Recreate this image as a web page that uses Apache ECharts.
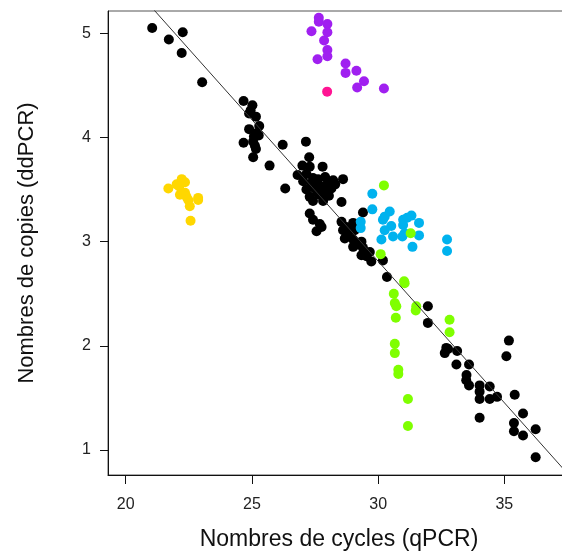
<!DOCTYPE html>
<html><head><meta charset="utf-8">
<script src="https://cdn.jsdelivr.net/npm/echarts@6/dist/echarts.min.js"></script>
<style>html,body{margin:0;padding:0;background:#fff}#c{width:562px;height:553px}</style>
</head><body><div id="c"></div>
<script>
const xTicks = [20, 25, 30, 35];
const yTicks = [1, 2, 3, 4, 5];
const xTitle = 'Nombres de cycles (qPCR)';
const yTitle = 'Nombres de copies (ddPCR)';
const fitIntercept = 10.963;
const fitSlope = -0.2717;

const blackPts = [
[21.05,5.05],[21.71,4.94],[22.26,5.01],[22.22,4.81],[23.03,4.53],
[24.67,4.35],[25.02,4.31],[24.95,4.26],[24.89,4.23],[25.16,4.20],[25.29,4.11],[24.89,4.08],[25.18,4.04],[25.27,4.02],[25.08,4.01],[24.67,3.95],[25.05,3.96],[25.12,3.92],[25.16,3.89],[25.05,3.81],[25.70,3.73],[26.22,3.93],
[27.00,3.73],[26.81,3.64],[26.32,3.51],[27.14,3.96],[27.27,3.81],[27.29,3.72],[27.80,3.72],[27.16,3.65],[27.42,3.61],[27.03,3.58],[27.62,3.60],[28.02,3.58],[28.22,3.59],[28.61,3.60],[27.16,3.50],[27.49,3.51],[27.82,3.53],[28.15,3.51],[27.29,3.43],[27.69,3.45],[27.95,3.46],[27.42,3.39],[27.82,3.39],[28.55,3.38],
[27.50,3.55],[27.90,3.62],[27.35,3.56],[28.05,3.44],[27.60,3.47],[28.30,3.55],
[27.29,3.27],[27.42,3.21],[27.69,3.17],[27.56,3.10],[27.76,3.14],[29.40,3.28],[28.55,3.19],[29.01,3.18],[28.74,3.14],[28.61,3.11],[28.81,3.08],[29.07,3.11],[28.68,3.03],[29.01,3.02],[29.34,3.00],[29.01,2.95],[29.14,2.97],[29.40,2.94],[29.67,2.90],[29.34,2.87],[29.54,2.86],[29.73,2.81],[30.19,2.82],[30.35,2.66],
[31.97,2.38],[31.97,2.22],[32.70,1.98],[32.64,1.93],[32.77,1.97],[33.13,1.95],[33.10,1.82],[33.60,1.82],[33.50,1.72],[33.49,1.67],[33.60,1.62],[34.02,1.62],[34.02,1.56],[34.02,1.49],[34.42,1.61],[34.42,1.49],[34.71,1.51],[34.02,1.31],[35.18,2.05],[35.08,1.90],[35.41,1.53],[35.74,1.35],[35.38,1.26],[35.38,1.18],[35.74,1.14],[36.24,1.20],[36.24,0.93]
];
const yellowPts = [
[21.69,3.51],[22.02,3.55],[22.22,3.60],[22.35,3.57],[22.12,3.53],[22.15,3.45],[22.35,3.47],[22.41,3.43],[22.48,3.40],[22.54,3.34],[22.87,3.42],[22.87,3.40],[22.57,3.20]
];
const purplePts = [
[27.65,5.15],[27.65,5.11],[27.36,5.02],[27.99,5.09],[27.99,5.01],[27.86,4.93],[27.99,4.84],[27.99,4.78],[27.60,4.75],[28.71,4.71],[28.71,4.62],[29.14,4.64],[29.44,4.54],[29.17,4.48],[30.23,4.47]
];
const pinkPts = [[27.98,4.44]];
const bluePts = [
[29.77,3.46],[29.77,3.31],[29.31,3.19],[29.31,3.13],[30.19,3.21],[30.26,3.24],[30.46,3.29],[30.52,3.15],[30.26,3.11],[30.13,3.02],[30.59,3.05],[30.99,3.21],[31.15,3.23],[30.99,3.16],[31.05,3.08],[30.96,3.05],[31.32,3.25],[31.62,3.18],[31.62,3.06],[31.36,2.95],[32.73,3.02],[32.73,2.91]
];
const greenPts = [
[30.23,3.54],[31.29,3.08],[30.10,2.88],[31.03,2.62],[31.05,2.60],[30.62,2.50],[30.66,2.41],[30.72,2.38],[31.51,2.38],[31.49,2.34],[30.70,2.27],[32.83,2.25],[32.83,2.13],[30.66,2.02],[30.66,1.93],[30.80,1.77],[30.80,1.73],[31.18,1.49],[31.18,1.23]
];

const chart = echarts.init(document.getElementById('c'), null, {renderer: 'canvas'});
const font = 'Liberation Sans, Arial, sans-serif';
const sym = 10;
function pts(name, data, color) {
  return {name, type: 'scatter', data, symbol: 'circle', symbolSize: sym,
    itemStyle: {color, opacity: 1}, emphasis: {disabled: true}, silent: true};
}
chart.setOption({
  animation: false,
  backgroundColor: '#fff',
  grid: {left: 108, top: 11, width: 462, height: 464, containLabel: false, outerBoundsMode: 'none',
         show: true, borderColor: '#555', borderWidth: 1, backgroundColor: 'transparent'},
  xAxis: {
    type: 'value', min: 19.3, max: 37.6,
    name: xTitle, nameLocation: 'middle', nameGap: 53,
    nameTextStyle: {fontFamily: font, fontSize: 23, color: '#111'},
    axisLine: {show: true, onZero: false, lineStyle: {color: '#111', width: 1}},
    axisTick: {show: true, length: 9, inside: false, customValues: xTicks, lineStyle: {color: '#111'}},
    axisLabel: {show: true, margin: 22, fontFamily: font, fontSize: 16, color: '#222', customValues: xTicks},
    splitLine: {show: false}
  },
  yAxis: {
    type: 'value', min: 0.76, max: 5.214,
    name: yTitle, nameLocation: 'middle', nameGap: 70, nameRotate: 90,
    nameTextStyle: {fontFamily: font, fontSize: 22, color: '#111'},
    axisLine: {show: true, onZero: false, lineStyle: {color: '#111', width: 1}},
    axisTick: {show: true, length: 8, inside: false, customValues: yTicks, lineStyle: {color: '#111'}},
    axisLabel: {show: true, margin: 17, fontFamily: font, fontSize: 16, color: '#222', customValues: yTicks},
    splitLine: {show: false}
  },
  series: [
    pts('black', blackPts, '#000000'),
    pts('yellow', yellowPts, '#ffd700'),
    pts('purple', purplePts, '#a020f0'),
    pts('pink', pinkPts, '#ff1493'),
    pts('blue', bluePts, '#00b2ee'),
    pts('green', greenPts, '#7fff00'),
    {type: 'line', data: [[18, fitIntercept + fitSlope * 18], [39, fitIntercept + fitSlope * 39]],
     symbol: 'none', clip: true, silent: true, lineStyle: {color: '#333', width: 1}, z: 3}
  ]
});
</script>
</body></html>
